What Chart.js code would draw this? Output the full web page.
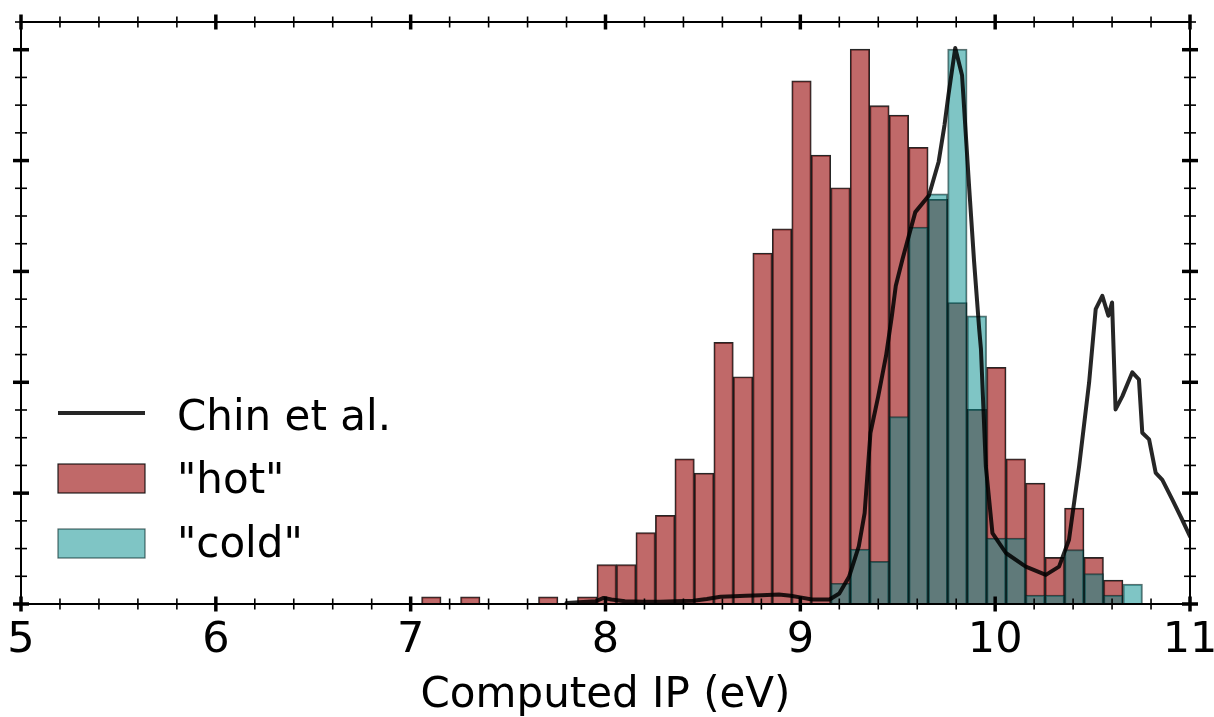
<!DOCTYPE html>
<html>
<head>
<meta charset="utf-8">
<script src="https://cdn.jsdelivr.net/npm/chart.js@4.4.1/dist/chart.umd.min.js"></script>
<style>
  html, body { margin: 0; padding: 0; background: #ffffff; }
  #wrap { width: 1214px; height: 717px; }
</style>
</head>
<body>
<div id="wrap"><canvas id="ipChart" width="1214" height="717"></canvas></div>
<script>
// Histogram bin centres (eV), bin width 0.1 eV
const binCenters = [
  7.106, 7.206, 7.306, 7.406, 7.506, 7.606, 7.706, 7.806, 7.906, 8.006,
  8.106, 8.206, 8.306, 8.406, 8.506, 8.606, 8.706, 8.806, 8.906, 9.006,
  9.106, 9.206, 9.306, 9.406, 9.506, 9.606, 9.706, 9.806, 9.906, 10.006,
  10.106, 10.206, 10.306, 10.406, 10.506, 10.606, 10.706
];

// "hot" ensemble, one value per bin
const hotValues = [
  1.3, 0, 1.3, 0, 0, 0, 1.3, 0, 1.3, 7.1,
  7.1, 12.9, 16.0, 26.2, 23.6, 47.2, 41.0, 63.3, 67.7, 94.4,
  81.0, 75.1, 100.1, 89.9, 88.2, 82.4, 73.0, 54.4, 35.1, 42.7,
  26.2, 21.8, 8.4, 17.3, 8.4, 4.3, 0
];

// "cold" ensemble, one value per bin
const coldValues = [
  0, 0, 0, 0, 0, 0, 0, 0, 0, 0,
  0, 0, 0, 0, 0, 0, 0, 0, 0, 0,
  0, 3.75, 9.9, 7.7, 33.8, 68.0, 74.0, 100.1, 52.0, 11.9,
  11.9, 1.6, 1.6, 9.8, 5.5, 1.6, 3.6
];

// Chin et al. spectrum
const chinX = [
  7.80, 7.95, 7.99, 8.03, 8.10, 8.20, 8.28, 8.36, 8.45, 8.52,
  8.59, 8.66, 8.72, 8.80, 8.89, 8.95, 9.00, 9.06, 9.15, 9.20,
  9.25, 9.30, 9.33, 9.36, 9.40, 9.44, 9.47, 9.49, 9.525, 9.59,
  9.66, 9.71, 9.74, 9.76, 9.795, 9.83, 9.867, 9.892, 9.918, 9.927,
  9.952, 9.986, 10.055, 10.157, 10.26, 10.328, 10.379, 10.431, 10.482, 10.516,
  10.55, 10.581, 10.60, 10.618, 10.653, 10.704, 10.738, 10.755, 10.79, 10.824,
  10.858, 10.91, 10.96, 11.0
];
const chinY = [
  0.2, 0.5, 1.1, 0.8, 0.5, 0.4, 0.4, 0.5, 0.6, 0.9,
  1.3, 1.4, 1.5, 1.6, 1.7, 1.5, 1.2, 0.8, 0.8, 1.9,
  4.9, 10.4, 16.4, 30.9, 37.5, 44.8, 52.0, 57.4, 62.3, 70.7,
  73.7, 79.8, 86.4, 91.8, 100.3, 95.4, 74.9, 61.7, 49.6, 46.0,
  24.9, 12.8, 9.2, 6.75, 5.25, 6.75, 11.6, 24.9, 39.9, 53.2,
  55.6, 52.0, 54.4, 35.1, 37.5, 41.8, 40.5, 30.9, 29.7, 23.65,
  22.4, 18.8, 15.2, 12.2
];

// Axis ticks
const xTickLabels = ['5', '6', '7', '8', '9', '10', '11'];
const xMinorStep = 0.2;
const yMajorStep = 20;
const yMinorStep = 5;

const FONT = "'DejaVu Sans', 'Liberation Sans', sans-serif";
const FONT_SIZE = 42;
const HOT_FILL = 'rgba(165, 42, 42, 0.7)';
const HOT_EDGE = 'rgba(0, 0, 0, 0.85)';
const COLD_FILL = 'rgba(0, 139, 139, 0.5)';
const COLD_EDGE = 'rgba(0, 35, 35, 0.65)';
const LINE_COLOR = 'rgba(0, 0, 0, 0.85)';

const toPoints = (xs, ys) => xs.map((x, i) => ({ x: x, y: ys[i] === 0 ? null : ys[i] }));

// Frame with inward/outward ticks on all four sides
const framePlugin = {
  id: 'frame',
  afterDatasetsDraw(chart) {
    const { ctx, chartArea: a, scales: { x, y } } = chart;
    ctx.save();
    ctx.strokeStyle = '#000';
    ctx.lineWidth = 2;
    ctx.strokeRect(a.left, a.top, a.right - a.left, a.bottom - a.top);

    const tick = (x0, y0, dx, dy, len, w) => {
      ctx.lineWidth = w;
      ctx.beginPath();
      ctx.moveTo(x0 - dx * len, y0 - dy * len);
      ctx.lineTo(x0 + dx * len, y0 + dy * len);
      ctx.stroke();
    };

    const xMin = x.min, xMax = x.max;
    const nx = Math.round((xMax - xMin) / xMinorStep);
    for (let i = 0; i <= nx; i++) {
      const v = xMin + i * xMinorStep;
      const px = x.getPixelForValue(v);
      const major = Math.abs(v - Math.round(v)) < 1e-6;
      const len = major ? 7.5 : 5.5;
      const w = major ? 3.5 : 1.6;
      tick(px, a.bottom, 0, 1, len, w);
      tick(px, a.top, 0, 1, len, w);
    }
    const ny = Math.floor(y.max / yMinorStep);
    for (let i = 0; i <= ny; i++) {
      const v = i * yMinorStep;
      const py = y.getPixelForValue(v);
      const major = v % yMajorStep === 0;
      const len = major ? 8 : 6;
      const w = major ? 3.5 : 1.6;
      tick(a.left, py, 1, 0, len, w);
      tick(a.right, py, 1, 0, len, w);
    }
    ctx.restore();
  }
};

// Legend drawn inside the plot, lower left
const legendPlugin = {
  id: 'insideLegend',
  afterDatasetsDraw(chart) {
    const { ctx } = chart;
    const ds = chart.data.datasets;
    const rows = [
      { d: ds[0], cy: 413, base: 430 },
      { d: ds[1], cy: 478.5, base: 493 },
      { d: ds[2], cy: 543.5, base: 557 }
    ];
    const hx0 = 58, hx1 = 145, textX = 177;
    ctx.save();
    rows.forEach(r => {
      if (r.d.type === 'line') {
        ctx.strokeStyle = r.d.borderColor;
        ctx.lineWidth = 4;
        ctx.beginPath();
        ctx.moveTo(hx0, r.cy);
        ctx.lineTo(hx1, r.cy);
        ctx.stroke();
      } else {
        ctx.fillStyle = '#fff';
        ctx.fillRect(hx0, r.cy - 14.5, hx1 - hx0, 29);
        ctx.fillStyle = r.d.backgroundColor;
        ctx.fillRect(hx0, r.cy - 14.5, hx1 - hx0, 29);
        ctx.strokeStyle = r.d.borderColor;
        ctx.lineWidth = 1.2;
        ctx.strokeRect(hx0, r.cy - 14.5, hx1 - hx0, 29);
      }
      ctx.fillStyle = '#000';
      ctx.font = FONT_SIZE + 'px ' + FONT;
      ctx.textBaseline = 'alphabetic';
      ctx.textAlign = 'left';
      ctx.fillText(r.d.label, textX, r.base);
    });
    ctx.restore();
  }
};

new Chart(document.getElementById('ipChart'), {
  type: 'bar',
  data: {
    datasets: [
      {
        type: 'line',
        label: 'Chin et al.',
        data: chinX.map((x, i) => ({ x: x, y: chinY[i] })),
        borderColor: LINE_COLOR,
        borderWidth: 4,
        borderJoinStyle: 'round',
        borderCapStyle: 'round',
        pointRadius: 0,
        tension: 0,
        fill: false,
        order: 0
      },
      {
        label: '"hot"',
        data: toPoints(binCenters, hotValues),
        backgroundColor: HOT_FILL,
        borderColor: HOT_EDGE,
        borderWidth: 1.3,
        grouped: false,
        barPercentage: 1,
        categoryPercentage: 1,
        order: 2
      },
      {
        label: '"cold"',
        data: toPoints(binCenters, coldValues),
        backgroundColor: COLD_FILL,
        borderColor: COLD_EDGE,
        borderWidth: 1.3,
        grouped: false,
        barPercentage: 1,
        categoryPercentage: 1,
        order: 1
      }
    ]
  },
  options: {
    responsive: false,
    animation: false,
    events: [],
    layout: { padding: { left: 21, right: 24, top: 22, bottom: 0 } },
    plugins: { legend: { display: false }, tooltip: { enabled: false } },
    scales: {
      x: {
        type: 'linear',
        min: 5,
        max: 11,
        offset: false,
        grid: { display: false, drawTicks: false, tickLength: 0 },
        border: { display: false },
        afterBuildTicks(scale) {
          scale.ticks = xTickLabels.map(t => ({ value: Number(t) }));
        },
        ticks: {
          color: '#000',
          padding: 11,
          maxRotation: 0,
          autoSkip: false,
          font: { family: FONT, size: 43 },
          callback: (v) => String(v)
        },
        title: {
          display: true,
          text: 'Computed IP (eV)',
          color: '#000',
          font: { family: FONT, size: FONT_SIZE, lineHeight: 1 },
          padding: { top: 0, bottom: 0 }
        },
        afterFit(scale) {
          scale.height = 113;
          scale.paddingLeft = 0;
          scale.paddingRight = 0;
        }
      },
      y: { min: 0, max: 105, display: false }
    }
  },
  plugins: [framePlugin, legendPlugin]
});
</script>
</body>
</html>
